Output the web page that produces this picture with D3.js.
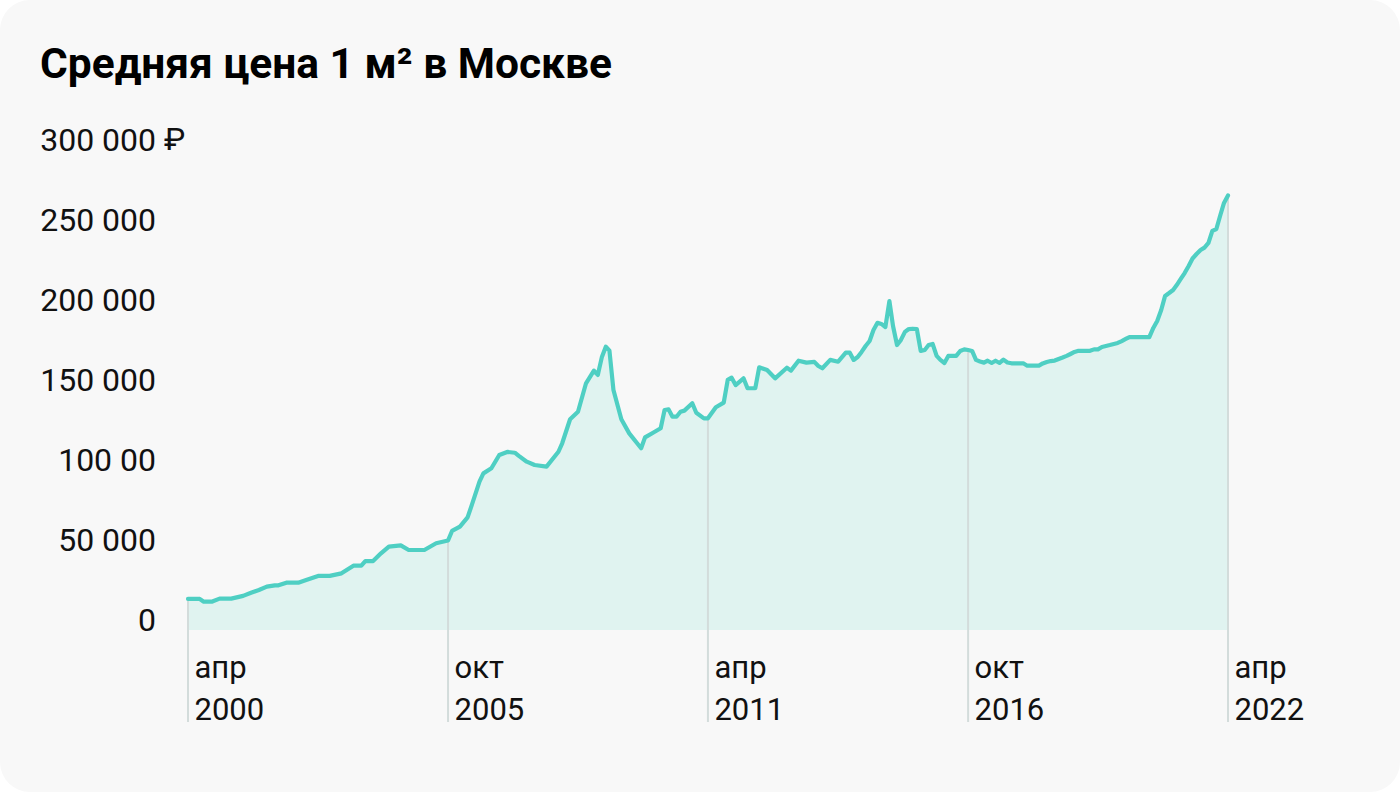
<!DOCTYPE html>
<html>
<head>
<meta charset="utf-8">
<script src="https://cdn.jsdelivr.net/npm/d3@7/dist/d3.min.js"></script>
<style>
  html, body { margin: 0; padding: 0; background: #ffffff; }
  svg { display: block; }
  text { font-family: Roboto, "Noto Sans", sans-serif; }
</style>
</head>
<body>
<svg id="chart" width="1400" height="792"></svg>
<script>
const title = "Средняя цена 1 м² в Москве";
const dates = [
  "2000-04","2000-07","2000-08","2000-10","2000-12","2001-03","2001-06","2001-08","2001-10","2001-12",
  "2002-02","2002-03","2002-05","2002-08","2002-10","2003-01","2003-04","2003-07","2003-10","2003-12",
  "2004-01","2004-03","2004-05","2004-07","2004-10","2004-12","2005-04","2005-07","2005-10","2005-11",
  "2006-01","2006-03","2006-04","2006-06","2006-07","2006-09","2006-11","2007-01","2007-03","2007-04",
  "2007-06","2007-08","2007-11","2008-02","2008-03","2008-05","2008-07","2008-09","2008-11","2008-12",
  "2009-01","2009-02","2009-03","2009-04","2009-06","2009-08","2009-10","2009-11","2009-12","2010-02",
  "2010-04","2010-05","2010-06","2010-07","2010-08","2010-09","2010-10","2010-12","2011-01","2011-03",
  "2011-04","2011-06","2011-08","2011-09","2011-10","2011-11","2012-01","2012-02","2012-04","2012-05",
  "2012-07","2012-09","2012-12","2013-01","2013-03","2013-05","2013-07","2013-08","2013-09","2013-11",
  "2014-01","2014-03","2014-04","2014-05","2014-06","2014-07","2014-08","2014-09","2014-10","2014-11",
  "2014-12","2015-01","2015-02","2015-03","2015-04","2015-05","2015-06","2015-07","2015-08","2015-09",
  "2015-10","2015-11","2015-12","2016-01","2016-02","2016-03","2016-04","2016-05","2016-06","2016-07",
  "2016-08","2016-09","2016-10","2016-11","2016-12","2017-01","2017-02","2017-03","2017-04","2017-05",
  "2017-06","2017-07","2017-08","2017-09","2017-12","2018-01","2018-04","2018-05","2018-06","2018-07",
  "2018-08","2018-09","2018-10","2018-11","2018-12","2019-01","2019-02","2019-05","2019-06","2019-07",
  "2019-08","2019-09","2019-10","2019-11","2019-12","2020-01","2020-02","2020-03","2020-08","2020-09",
  "2020-10","2020-11","2020-12","2021-01","2021-02","2021-03","2021-04","2021-05","2021-06","2021-07",
  "2021-08","2021-09","2021-10","2021-11","2021-12","2022-01","2022-02","2022-03","2022-04"
];
const prices = [
  19400,19400,17700,17700,19600,19600,21300,23300,25000,27100,
  27900,27900,29600,29600,31300,33800,33800,35400,40200,40200,
  43100,43100,47900,52100,52900,50000,50000,54200,55900,61900,
  64600,70400,77700,92700,97900,101100,109400,111300,110800,108800,
  105200,103100,102100,111400,116700,131700,136400,154200,162100,159400,
  170400,177100,174600,150000,131700,122900,116700,113600,120400,123300,
  126100,137500,137900,133300,133300,136400,137100,141700,135800,132300,
  132300,139200,142100,156300,157700,153100,157300,151100,151100,164200,
  162500,157300,163900,162100,168300,167100,167600,165000,163600,168800,
  167700,173300,173300,168800,170600,173800,177500,180600,187500,192000,
  191300,189400,205600,190000,178100,181300,186300,188100,188300,188100,
  174400,175000,178100,178800,171300,168800,166900,171300,171300,171300,
  174400,175400,175000,174400,168800,167800,167100,168300,166900,168300,
  166900,169000,167200,166700,166700,165200,165200,166600,167500,168100,
  168400,169400,170300,171300,172500,173800,174500,174500,175400,175400,
  176900,177500,178100,178800,179400,180600,181900,183100,183100,188800,
  193100,200000,208800,210600,212500,215600,219400,223100,227500,232200,
  235000,237500,239000,241900,249400,250600,259400,266900,271600
];
const yTicks = [0, 50000, 100000, 150000, 200000, 250000, 300000];
const yTickLabels = ["0", "50 000", "100 00", "150 000", "200 000", "250 000", "300 000"];
const currencySign = "₽";
const xTickDates = ["2000-04", "2005-10", "2011-04", "2016-10", "2022-04"];
const xTickMonths = ["апр", "окт", "апр", "окт", "апр"];
const xTickYears = ["2000", "2005", "2011", "2016", "2022"];

const parse = d3.timeParse("%Y-%m");
const data = dates.map((d, i) => ({ date: parse(d), value: prices[i] }));

const svg = d3.select("#chart");
svg.append("rect").attr("x", 0).attr("y", 0).attr("width", 1400).attr("height", 792)
  .attr("rx", 30).attr("fill", "#f8f8f8");

svg.append("text").attr("x", 40).attr("y", 78)
  .attr("font-size", 42.5).attr("font-weight", 700).attr("fill", "#000")
  .text(title);

const x = d3.scaleTime().domain([parse("2000-04"), parse("2022-04")]).range([188, 1228]);
const y = d3.scaleLinear().domain([0, 300000]).range([630, 150]);

// area
const area = d3.area().x(d => x(d.date)).y0(y(0)).y1(d => y(d.value));
svg.append("path").datum(data).attr("d", area).attr("fill", "#e0f3f0");

// drop lines at x ticks
const valueAt = s => prices[dates.indexOf(s)];
svg.append("g").selectAll("line").data(xTickDates).join("line")
  .attr("x1", d => x(parse(d))).attr("x2", d => x(parse(d)))
  .attr("y1", d => y(valueAt(d))).attr("y2", 722)
  .attr("stroke", "#d3dcdb").attr("stroke-width", 2);

// line
const line = d3.line().x(d => x(d.date)).y(d => y(d.value));
svg.append("path").datum(data).attr("d", line)
  .attr("fill", "none").attr("stroke", "#4fcfc3").attr("stroke-width", 4.2)
  .attr("stroke-linejoin", "round").attr("stroke-linecap", "round");

// y axis
const yAxis = d3.axisLeft(y).tickValues(yTicks).tickSize(0).tickPadding(0)
  .tickFormat((d, i) => yTickLabels[i]);
const yg = svg.append("g").attr("transform", "translate(156,0)").call(yAxis);
yg.select(".domain").remove();
yg.selectAll("text").attr("dy", 0).attr("font-size", 32).attr("fill", "#111")
  .attr("font-family", "Roboto, 'Noto Sans', sans-serif");
svg.append("text").attr("x", 164).attr("y", y(300000))
  .attr("font-size", 32).attr("fill", "#111").text(currencySign);

// x axis
const xAxis = d3.axisBottom(x).tickValues(xTickDates.map(parse)).tickSize(0).tickPadding(0)
  .tickFormat(() => "");
const xg = svg.append("g").attr("transform", "translate(0,630)").call(xAxis);
xg.select(".domain").remove();
xg.selectAll(".tick text").each(function(d, i) {
  const t = d3.select(this).attr("text-anchor", "start").attr("x", 6).attr("y", 0).attr("dy", 0)
    .attr("font-size", 31).attr("fill", "#111")
    .attr("font-family", "Roboto, 'Noto Sans', sans-serif");
  t.text(null);
  t.append("tspan").attr("x", 6).attr("y", 48).text(xTickMonths[i]);
  t.append("tspan").attr("x", 6).attr("y", 90).text(xTickYears[i]);
});
</script>
</body>
</html>
